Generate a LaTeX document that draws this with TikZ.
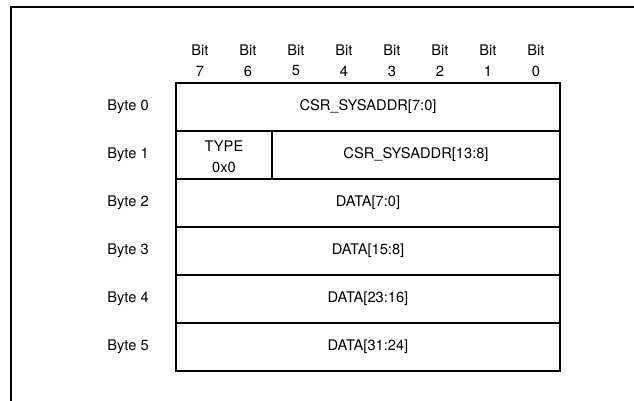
\documentclass[tikz,border=0pt]{standalone}
\usepackage{fontspec}
\setmainfont{TeX Gyre Heros}
\usepackage{xcolor}

\begin{document}
\begin{tikzpicture}[x=0.75pt,y=0.75pt,yscale=-1,xscale=1,
        lbl/.style={inner sep=0.75pt,font=\fontsize{11}{13}\selectfont},
        cell/.style={line width=0.9pt}]
        %set diagram size to 634 x 400
        \useasboundingbox (0,0) rectangle (634,400);
        
        %Shape: Frame (open at right and bottom)
        \draw [cell] (11,401) -- (11,7) -- (635,7) ;
        
        %Shape: Rectangle [byte rows]
        \draw [cell] (176,83) -- (560,83) -- (560,371) -- (176,371) -- cycle ;
        \draw [cell] (176,131) -- (560,131) ;
        \draw [cell] (176,179) -- (560,179) ;
        \draw [cell] (176,227) -- (560,227) ;
        \draw [cell] (176,275) -- (560,275) ;
        \draw [cell] (176,323) -- (560,323) ;
        %Shape: Line [type field]
        \draw [cell] (272,131) -- (272,179) ;
        
        % Text Node: bit numbers
        \draw (200,50) node [lbl] (bit7) {Bit};  \draw (200,71) node [lbl] (num7) {7};
        \draw (248,50) node [lbl] (bit6) {Bit};  \draw (248,71) node [lbl] (num6) {6};
        \draw (296,50) node [lbl] (bit5) {Bit};  \draw (296,71) node [lbl] (num5) {5};
        \draw (344,50) node [lbl] (bit4) {Bit};  \draw (344,71) node [lbl] (num4) {4};
        \draw (392,50) node [lbl] (bit3) {Bit};  \draw (392,71) node [lbl] (num3) {3};
        \draw (440,50) node [lbl] (bit2) {Bit};  \draw (440,71) node [lbl] (num2) {2};
        \draw (488,50) node [lbl] (bit1) {Bit};  \draw (488,71) node [lbl] (num1) {1};
        \draw (536,50) node [lbl] (bit0) {Bit};  \draw (536,71) node [lbl] (num0) {0};
        
        % Text Node: byte numbers
        \draw (128,107) node [lbl] (byte0) {Byte 0};
        \draw (128,155) node [lbl] (byte1) {Byte 1};
        \draw (128,203) node [lbl] (byte2) {Byte 2};
        \draw (128,251) node [lbl] (byte3) {Byte 3};
        \draw (128,299) node [lbl] (byte4) {Byte 4};
        \draw (128,347) node [lbl] (byte5) {Byte 5};
        
        % Text Node: fields
        \draw (368,107) node [lbl] (addrlo) {CSR\_SYSADDR[7:0]};
        \draw (224,146) node [lbl] (type) {TYPE};
        \draw (224,167) node [lbl] (typeval) {0x0};
        \draw (416,155) node [lbl] (addrhi) {CSR\_SYSADDR[13:8]};
        \draw (368,203) node [lbl] (data0) {DATA[7:0]};
        \draw (368,251) node [lbl] (data1) {DATA[15:8]};
        \draw (368,299) node [lbl] (data2) {DATA[23:16]};
        \draw (368,347) node [lbl] (data3) {DATA[31:24]};
        
        
        \end{tikzpicture}
\end{document}
